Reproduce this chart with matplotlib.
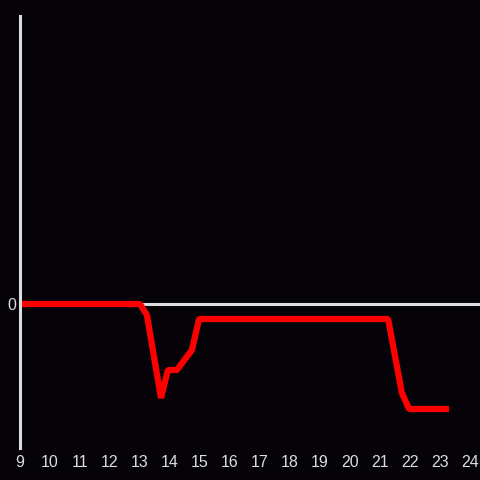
import matplotlib
matplotlib.use("Agg")
import matplotlib.pyplot as plt

hours = [9, 13, 13.23, 13.7, 13.93, 14.23, 14.73, 14.97, 21.27, 21.73, 21.97, 23.3]
values = [0, 0, -11, -94, -66, -66, -46, -15, -15, -89, -105, -105]
xticks = list(range(9, 25))

bg = "#050307"
fg = "#dddddd"

plt.rcParams["font.family"] = ["Liberation Sans", "DejaVu Sans"]

fig = plt.figure(figsize=(4.8, 4.8), dpi=100, facecolor=bg)
ax = fig.add_axes([20/480, 32/480, 460/480, 432/480], facecolor=bg)
ax.set_xlim(9, 9 + 460/30)
ax.set_ylim(-144, 288)

ax.axhline(0, color=fg, lw=2.2, zorder=1)
ax.plot(hours, values, color="#ff0000", lw=4.5, solid_joinstyle="bevel", solid_capstyle="butt", zorder=2)

for s in ["top", "right", "bottom"]:
    ax.spines[s].set_visible(False)
ax.spines["left"].set_color(fg)
ax.spines["left"].set_linewidth(2.2)
ax.spines["left"].set_zorder(3)

ax.set_xticks(xticks)
ax.set_xticklabels([str(t) for t in xticks])
ax.set_yticks([0])
ax.set_yticklabels(["0"])
ax.tick_params(axis="both", length=0, colors=fg, labelsize=11.5, pad=5)
ax.tick_params(axis="y", pad=3)

fig.savefig("out.png", dpi=100, facecolor=bg)
